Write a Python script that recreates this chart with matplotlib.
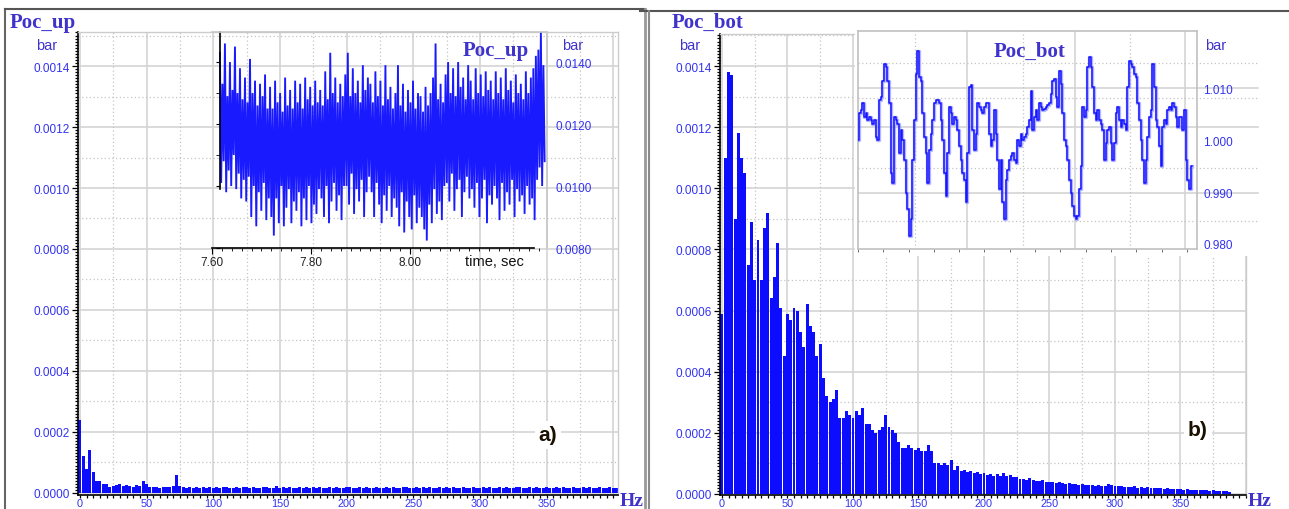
import numpy as np
import matplotlib
matplotlib.use("Agg")
import matplotlib.pyplot as plt
from matplotlib.lines import Line2D
from matplotlib.patches import Rectangle
from matplotlib.ticker import MultipleLocator, FixedLocator

plt.rcParams['font.family'] = ['Liberation Sans', 'DejaVu Sans']

# ---------------- data ----------------
spec_step_hz = 2.5
# amplitude spectra in micro-bar (1e-6 bar), bins every 2.5 Hz from 0 Hz
poc_up_spec_ubar = [
    240, 120, 80, 140, 70, 40, 40, 30, 30, 20,
    22, 25, 28, 22, 26, 24, 20, 25, 22, 38,
    30, 20, 18, 20, 17, 19, 18, 20, 22, 60,
    22, 18, 16, 19, 17, 20, 16, 18, 17, 19,
    17, 19, 16, 18, 20, 17, 15, 18, 16, 19,
    18, 16, 20, 17, 15, 19, 18, 16, 17, 22,
    16, 18, 17, 19, 15, 17, 20, 16, 18, 17,
    19, 16, 18, 15, 17, 21, 16, 18, 17, 16,
    18, 20, 16, 17, 19, 15, 18, 17, 16, 19,
    17, 15, 18, 16, 20, 17, 16, 19, 18, 15,
    16, 18, 17, 20, 16, 18, 15, 17, 19, 16,
    18, 16, 19, 17, 15, 18, 16, 17, 20, 16,
    17, 19, 16, 18, 17, 15, 19, 16, 18, 17,
    16, 18, 20, 16, 17, 19, 15, 18, 16, 17,
    19, 16, 17, 18, 16, 20, 17, 15, 18, 16,
    17, 18, 16, 19, 17, 16, 18, 17, 16, 18,
    17, 16]

poc_bot_spec_ubar = [
    590, 1100, 1380, 1370, 900, 1180, 1100, 1050, 750, 890,
    700, 830, 700, 870, 920, 640, 710, 820, 610, 450,
    590, 570, 610, 600, 530, 480, 620, 550, 530, 450,
    490, 380, 320, 300, 310, 340, 250, 250, 270, 260,
    250, 270, 260, 280, 230, 230, 210, 200, 210, 220,
    260, 220, 210, 200, 170, 150, 150, 160, 150, 145,
    150, 140, 140, 160, 140, 100, 100, 95, 100, 95,
    110, 80, 90, 75, 80, 72, 75, 70, 72, 65,
    68, 62, 65, 60, 66, 58, 70, 60, 62, 56,
    55, 48, 50, 46, 52, 45, 44, 42, 46, 40,
    38, 40, 36, 38, 35, 34, 37, 32, 33, 30,
    32, 29, 30, 28, 27, 30, 26, 27, 33, 28,
    26, 25, 27, 23, 24, 22, 25, 21, 22, 20,
    24, 20, 19, 18, 20, 17, 18, 16, 17, 15,
    17, 14, 15, 13, 14, 13, 14, 12, 13, 11,
    12, 10, 11, 10, 9, 8]

# Poc_up time signal (inset a): successive local maxima / minima, in 1e-5 bar
poc_up_t0, poc_up_dt = 7.616, 0.002533
poc_up_hi_e5 = [
    1430, 1330, 1460, 1290, 1400, 1310, 1450, 1300, 1380, 1280,
    1350, 1270, 1410, 1300, 1340, 1260, 1330, 1290, 1360, 1250,
    1320, 1250, 1340, 1270, 1300, 1240, 1350, 1260, 1310, 1250,
    1340, 1270, 1330, 1250, 1350, 1280, 1320, 1260, 1340, 1270,
    1310, 1260, 1370, 1280, 1430, 1300, 1350, 1270, 1330, 1290,
    1360, 1430, 1290, 1380, 1300, 1340, 1270, 1390, 1310, 1350,
    1330, 1270, 1370, 1290, 1340, 1260, 1390, 1280, 1320, 1250,
    1300, 1390, 1260, 1330, 1240, 1310, 1270, 1340, 1250, 1300,
    1290, 1240, 1320, 1260, 1300, 1350, 1460, 1280, 1330, 1270,
    1360, 1400, 1300, 1380, 1290, 1400, 1320, 1350, 1280, 1390,
    1340, 1280, 1380, 1300, 1360, 1290, 1370, 1310, 1340, 1280,
    1370, 1300, 1350, 1280, 1380, 1310, 1340, 1270, 1360, 1300,
    1330, 1280, 1370, 1300, 1350, 1380, 1420, 1440, 1500, 1390]
poc_up_lo_e5 = [
    1010, 1080, 980, 1050, 1000, 1100, 990, 1040, 960, 1020,
    950, 1030, 900, 1000, 870, 980, 920, 1010, 890, 960,
    900, 840, 960, 880, 1000, 870, 930, 990, 880, 950,
    920, 980, 870, 960, 890, 1000, 880, 940, 910, 990,
    960, 900, 1000, 880, 950, 1010, 920, 970, 890, 1000,
    1000, 940, 1040, 910, 990, 950, 1020, 900, 980, 1030,
    980, 900, 1010, 940, 880, 970, 920, 1000, 900, 960,
    930, 870, 980, 850, 950, 900, 860, 970, 880, 930,
    900, 860, 824, 940, 880, 990, 910, 950, 890, 1000,
    1010, 950, 1040, 920, 990, 1020, 900, 980, 1030, 960,
    990, 930, 1010, 900, 960, 1020, 880, 970, 940, 1000,
    960, 890, 1010, 920, 980, 940, 1020, 900, 990, 950,
    970, 910, 1000, 940, 960, 890, 1020, 1060, 1000, 1080]

# Poc_bot time signal (inset b), bar, uniform samples
poc_bot_t0, poc_bot_dt = 7.6006, 0.003294
poc_bot_bar = [
    1.0001, 1.0052, 1.0058, 1.0071, 1.0045, 1.0052, 1.0039, 1.0045, 1.0039, 1.0032,
    1.0039, 1.0007, 1.0001, 1.0077, 1.0083, 1.0115, 1.0147, 1.0141, 1.0115, 1.0071,
    0.9937, 0.9918, 1.0045, 1.0039, 1.0032, 0.9975, 1.0020, 1.0001, 0.9962, 0.9899,
    0.9867, 0.9816, 0.9848, 0.9962, 1.0039, 1.0128, 1.0173, 1.0122, 1.0115, 1.0052,
    1.0007, 0.9975, 0.9918, 0.9981, 1.0013, 1.0039, 1.0071, 1.0077, 1.0077, 1.0071,
    1.0039, 1.0001, 0.9937, 0.9892, 0.9975, 1.0064, 1.0052, 1.0032, 1.0045, 1.0039,
    1.0020, 0.9988, 0.9962, 0.9937, 0.9924, 0.9880, 0.9975, 1.0103, 1.0106, 1.0020,
    0.9981, 1.0013, 1.0071, 1.0064, 1.0058, 1.0052, 1.0064, 1.0071, 1.0071, 1.0013,
    0.9988, 1.0001, 1.0058, 1.0013, 0.9962, 0.9905, 0.9962, 0.9880, 0.9848, 0.9924,
    0.9943, 0.9962, 0.9969, 0.9975, 0.9962, 0.9956, 1.0001, 0.9988, 1.0013, 1.0001,
    1.0007, 1.0013, 1.0026, 1.0039, 1.0096, 1.0020, 1.0045, 1.0058, 1.0039, 1.0071,
    1.0064, 1.0058, 1.0061, 1.0064, 1.0068, 1.0071, 1.0090, 1.0115, 1.0118, 1.0083,
    1.0064, 1.0134, 1.0109, 1.0052, 1.0001, 0.9988, 0.9962, 0.9924, 0.9899, 0.9873,
    0.9854, 0.9848, 0.9854, 0.9905, 0.9950, 1.0064, 1.0045, 1.0058, 1.0141, 1.0160,
    1.0141, 1.0103, 1.0052, 1.0039, 1.0058, 1.0039, 1.0032, 1.0020, 0.9962, 0.9994,
    1.0020, 1.0026, 0.9994, 0.9962, 0.9994, 1.0052, 1.0064, 1.0039, 1.0026, 1.0039,
    1.0032, 1.0020, 1.0103, 1.0154, 1.0147, 1.0141, 1.0128, 1.0122, 1.0071, 1.0039,
    1.0001, 0.9962, 0.9918, 0.9962, 1.0007, 1.0045, 1.0058, 1.0147, 1.0103, 1.0039,
    1.0026, 0.9988, 0.9950, 1.0026, 1.0039, 1.0032, 1.0058, 1.0064, 1.0058, 1.0071,
    1.0064, 1.0045, 1.0026, 1.0045, 1.0045, 1.0020, 1.0058, 0.9962, 0.9924, 0.9905,
    0.9950]

spec_yticks = [0.0, 0.0002, 0.0004, 0.0006, 0.0008, 0.0010, 0.0012, 0.0014]
spec_xticks = [0, 50, 100, 150, 200, 250, 300, 350, 400]
up_xticks = [7.60, 7.80, 8.00]
up_yticks = [0.0080, 0.0100, 0.0120, 0.0140]
bot_yticks = [0.980, 0.990, 1.000, 1.010]

# ---------------- styling ----------------
W, H = 1289, 510
fig = plt.figure(figsize=(W / 100, H / 100), dpi=100)
fig.patch.set_facecolor('white')

def fx(px): return px / W
def fy(py): return 1 - py / H
def rect(l, t, r, b): return [fx(l), fy(b), (r - l) / W, (b - t) / H]

TICKC = '#3232f2'
TITLEC = '#3f33cc'
BARC = '#0c0cff'
GRIDC = '#d4d4d4'
DOTC = '#c4c4c4'
SERIF = ['Liberation Serif', 'DejaVu Serif']


def spectrum_axes(box, xmax, spec, ymin, ymax):
    ax = fig.add_axes(rect(*box))
    freq = np.arange(len(spec)) * spec_step_hz
    ax.bar(freq, np.array(spec) * 1e-6, width=2.25, color=BARC, linewidth=0, zorder=2)
    ax.set_xlim(-1.5, xmax)
    ax.set_ylim(ymin, ymax)
    ax.set_yticks(spec_yticks)
    ax.set_yticklabels([f"{v:.4f}" for v in spec_yticks])
    ax.yaxis.set_minor_locator(MultipleLocator(0.00001))
    ax.set_xticks(spec_xticks)
    ax.set_xticklabels([str(v) if v <= 350 else '' for v in spec_xticks])
    ax.xaxis.set_minor_locator(MultipleLocator(5))
    ax.grid(which='major', color=GRIDC, lw=1.2, zorder=0.5)
    for v in np.arange(0.0001, 0.0016, 0.0002):
        ax.axhline(v, color=DOTC, lw=0.9, ls=(0, (1, 2)), zorder=0.6)
    for f in np.arange(25, 401, 50):
        ax.axvline(f, color=DOTC, lw=0.9, ls=(0, (1, 2)), zorder=0.6)
    ax.set_axisbelow(True)
    ax.tick_params(which='both', direction='out', labelsize=8.5, labelcolor=TICKC,
                   color='black', width=0.9, pad=1.5)
    ax.tick_params(axis='y', which='major', length=4.5)
    ax.tick_params(axis='y', which='minor', length=2)
    ax.tick_params(axis='x', which='major', length=2.5, pad=0, labelsize=7.8)
    ax.tick_params(axis='x', which='minor', length=2)
    for s in ('left', 'bottom'):
        ax.spines[s].set_color('black')
        ax.spines[s].set_linewidth(1.2)
    for s in ('top', 'right'):
        ax.spines[s].set_color('#cccccc')
        ax.spines[s].set_linewidth(1.0)
    return ax


ax_a = spectrum_axes((78, 33, 618, 496), 403.6, poc_up_spec_ubar, -0.0000066, 0.0015115)
ax_b = spectrum_axes((720, 35, 1246, 496), 390.0, poc_bot_spec_ubar, -0.0000033, 0.0015047)

# ---------- inset a : Poc_up time signal ----------
ia = fig.add_axes(rect(212, 33, 547, 249))
ia.set_zorder(2)
ia.patch.set_alpha(0)
hi = np.array(poc_up_hi_e5) * 1e-5
lo = np.array(poc_up_lo_e5) * 1e-5
sig_up = np.column_stack((hi, lo)).ravel()
t_up = poc_up_t0 + np.arange(len(sig_up)) * poc_up_dt
ia.plot(t_up, sig_up, color='#1a1aff', lw=1.35, solid_joinstyle='miter')
ia.set_xlim(7.60, 8.2768)
ia.set_ylim(0.0080, 0.01497)
ia.set_xticks(up_xticks)
ia.set_xticklabels([f"{v:.2f}" for v in up_xticks])
ia.xaxis.set_minor_locator(MultipleLocator(0.02))
ia.set_yticks(up_yticks)
ia.set_yticklabels([f"{v:.4f}" for v in up_yticks])
ia.yaxis.set_minor_locator(FixedLocator([0.011, 0.013]))
ia.tick_params(axis='x', which='both', direction='out', labelsize=8.5, labelcolor='#222222',
               color='black', pad=1.5)
ia.tick_params(axis='x', which='major', length=4)
ia.tick_params(axis='x', which='minor', length=2)
ia.tick_params(axis='y', which='both', left=True, right=False, labelleft=False,
               labelright=True, direction='out', labelsize=8.5, labelcolor=TICKC,
               color='black', length=3, pad=3)
ia.spines['left'].set_position(('data', 7.617))
ia.spines['left'].set_bounds(0.0099, 0.01497)
ia.spines['left'].set_color('black')
ia.spines['left'].set_linewidth(1.2)
ia.spines['bottom'].set_bounds(7.60, 8.25)
ia.spines['bottom'].set_color('black')
ia.spines['bottom'].set_linewidth(1.2)
for s in ('top', 'right'):
    ia.spines[s].set_color('#c8c8c8')
    ia.spines[s].set_linewidth(1.2)
fig.text(fx(496), fy(56), 'Poc_up', fontsize=15, fontweight='bold', family=SERIF,
         color=TITLEC, ha='center', va='baseline', zorder=5)
fig.text(fx(573), fy(50), 'bar', fontsize=10.5, color=TITLEC, ha='center', va='baseline', zorder=5)
fig.text(fx(494), fy(266), 'time, sec', fontsize=10.5, color='#111111', ha='center',
         va='baseline', zorder=5)

# ---------- inset b : Poc_bot time signal ----------
fig.add_artist(Rectangle((fx(855), fy(257)), (1262 - 855) / W, (257 - 27) / H,
                         transform=fig.transFigure, facecolor='white', edgecolor='none',
                         zorder=1))
ib = fig.add_axes(rect(858, 32, 1197, 250))
ib.set_zorder(2)
ib.patch.set_facecolor('white')
sig_bot = np.array(poc_bot_bar)
t_bot = poc_bot_t0 + np.arange(len(sig_bot)) * poc_bot_dt
ib.set_xlim(7.60, 8.27)
ib.set_ylim(0.979, 1.0211)
for v in (1.0101, 1.0025, 0.9899):
    ib.axhline(v, xmin=0, xmax=1.18, color=GRIDC, lw=1.2, zorder=0.5, clip_on=False)
for v in (1.0150, 1.0081, 0.9947, 0.9845):
    ib.axhline(v, xmin=0, xmax=1.18, color=DOTC, lw=0.9, ls=(0, (1, 2)), zorder=0.6,
               clip_on=False)
for t in (7.8154, 8.0289, 8.2462):
    ib.axvline(t, color=GRIDC, lw=1.2, zorder=0.5)
for t in (7.7127, 7.926, 8.1375):
    ib.axvline(t, color=DOTC, lw=0.9, ls=(0, (1, 2)), zorder=0.6)
ib.plot(t_bot, sig_bot, color='#7878ff', lw=2.4, alpha=0.55, drawstyle='steps-mid', zorder=3)
ib.plot(t_bot, sig_bot, color='#1414ff', lw=1.1, drawstyle='steps-mid', zorder=4)
ib.set_xticks([])
ib.xaxis.set_minor_locator(MultipleLocator(0.05))
ib.set_yticks(bot_yticks)
ib.set_yticklabels([f"{v:.3f}" for v in bot_yticks])
ib.tick_params(axis='y', which='both', left=False, right=False, labelleft=False,
               labelright=True, labelsize=8.5, labelcolor=TICKC, length=0, pad=4.5)
ib.tick_params(axis='x', which='minor', direction='out', length=2, color='#555555')
for s in ib.spines.values():
    s.set_color('#c0c0c0')
    s.set_linewidth(1.2)
fig.text(fx(1030), fy(57), 'Poc_bot', fontsize=15, fontweight='bold', family=SERIF,
         color=TITLEC, ha='center', va='baseline', zorder=5)
fig.text(fx(1216), fy(50), 'bar', fontsize=10.5, color=TITLEC, ha='center', va='baseline', zorder=5)

# ---------- panel texts ----------
fig.text(fx(10), fy(28), 'Poc_up', fontsize=15, fontweight='bold', family=SERIF,
         color=TITLEC, ha='left', va='baseline', zorder=5)
fig.text(fx(672), fy(28), 'Poc_bot', fontsize=15, fontweight='bold', family=SERIF,
         color=TITLEC, ha='left', va='baseline', zorder=5)
fig.text(fx(47), fy(50), 'bar', fontsize=10.5, color=TITLEC, ha='center', va='baseline', zorder=5)
fig.text(fx(690), fy(50), 'bar', fontsize=10.5, color=TITLEC, ha='center', va='baseline', zorder=5)
fig.text(fx(632), fy(506), 'Hz', fontsize=14, fontweight='bold', family=SERIF,
         color=TITLEC, ha='center', va='baseline', zorder=5)
fig.text(fx(1260), fy(506), 'Hz', fontsize=14, fontweight='bold', family=SERIF,
         color=TITLEC, ha='center', va='baseline', zorder=5)
fig.text(fx(548), fy(436), 'a)', fontsize=15, fontweight='bold', color='#1a1000',
         ha='center', va='center', zorder=5,
         bbox=dict(facecolor='white', edgecolor='none', pad=3))
fig.text(fx(1198), fy(431), 'b)', fontsize=15, fontweight='bold', color='#1a1000',
         ha='center', va='center', zorder=5,
         bbox=dict(facecolor='white', edgecolor='none', pad=3))

# ---------- panel frames ----------
for (x0, y0, x1, y1, c, w) in [
        (5, 10, 5, 510, '#666666', 1.5),
        (5, 10, 645, 10, '#555555', 1.5),
        (645, 10, 645, 510, '#999999', 2.0),
        (640, 12, 1289, 12, '#555555', 1.5),
        (649, 12, 649, 510, '#8a8a8a', 1.5)]:
    fig.add_artist(Line2D([fx(x0), fx(x1)], [fy(y0), fy(y1)], transform=fig.transFigure,
                          color=c, lw=w, zorder=6))

fig.savefig('out.png', dpi=100, facecolor='white')
